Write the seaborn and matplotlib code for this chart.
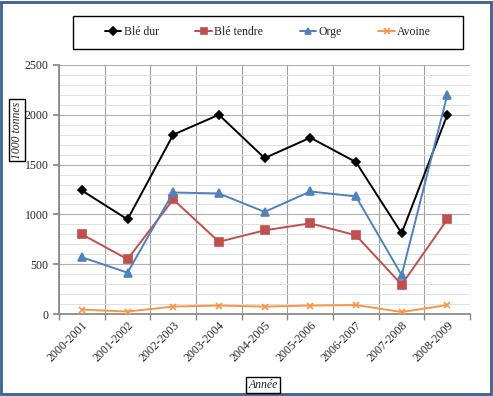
import pandas as pd
import numpy as np
import matplotlib.pyplot as plt
import seaborn as sns
from matplotlib.patches import Rectangle
from matplotlib.ticker import MultipleLocator, FixedLocator

sns.set_theme(style='white')
plt.rcParams['font.family'] = ['Liberation Serif', 'DejaVu Serif']

# données (1000 tonnes)
annees = ['2000-2001', '2001-2002', '2002-2003', '2003-2004', '2004-2005',
          '2005-2006', '2006-2007', '2007-2008', '2008-2009']
ble_dur = [1240, 950, 1800, 2000, 1565, 1770, 1525, 810, 2000]
ble_tendre = [800, 550, 1150, 725, 840, 910, 790, 295, 950]
orge = [570, 415, 1220, 1210, 1025, 1230, 1180, 390, 2200]
avoine = [45, 25, 75, 85, 75, 85, 90, 20, 90]

series = ['Blé dur', 'Blé tendre', 'Orge', 'Avoine']
valeurs = [ble_dur, ble_tendre, orge, avoine]
couleurs = ['#000000', '#c0504d', '#4f81bd', '#f79646']
marqueurs = ['D', 's', '^', 'x']
tailles = [4.5, 5.5, 5.5, 5]

pos = np.arange(len(annees))

fig = plt.figure(figsize=(4.93, 3.96), dpi=100)
ax = fig.add_axes([0.1197, 0.207, 0.834, 0.629])

for nom, v, c, m, t in zip(series, valeurs, couleurs, marqueurs, tailles):
    sns.lineplot(x=pos, y=v, color=c, marker=m, markersize=t, linewidth=1.4,
                 markeredgecolor=c, markeredgewidth=1.2, label=nom, ax=ax, zorder=3)

ax.set_xlim(-0.5, len(annees) - 0.5)
ax.set_ylim(0, 2500)
ax.xaxis.set_major_locator(FixedLocator(pos))
ax.set_xticklabels(annees, rotation=45, ha='right', rotation_mode='anchor', fontsize=8.5)
ax.xaxis.set_minor_locator(FixedLocator(np.arange(-0.5, len(annees), 1)))
ax.yaxis.set_major_locator(MultipleLocator(500))
ax.yaxis.set_minor_locator(MultipleLocator(100))
ax.tick_params(axis='y', which='major', labelsize=8.5, length=4, color='#888888', direction='out', left=True)
ax.tick_params(axis='x', which='major', length=0, pad=4)
ax.tick_params(axis='x', which='minor', length=4, color='#888888', direction='out', bottom=True)
ax.grid(True, axis='y', which='major', color='#b0b0b0', linewidth=0.8)
ax.grid(True, axis='y', which='minor', color='#e0e0e0', linewidth=0.7)
ax.grid(True, axis='x', which='minor', color='#a0a0a0', linewidth=0.8)
ax.set_axisbelow(True)
for s in ['top', 'right']:
    ax.spines[s].set_visible(False)
for s in ['left', 'bottom']:
    ax.spines[s].set_color('#888888')
ax.set_xlabel('')
ax.set_ylabel('')

h, lab = ax.get_legend_handles_labels()
ax.get_legend().remove()
leg = fig.legend(h, lab, loc='center', ncol=4,
                 bbox_to_anchor=(73 / 493, 1 - 49 / 396, 390 / 493, 33 / 396),
                 bbox_transform=fig.transFigure,
                 frameon=False, fontsize=8.5, handlelength=1.4, markerscale=0.85,
                 columnspacing=3.1, handletextpad=0.2, borderaxespad=0)
fig.patches.append(Rectangle((73 / 493, 1 - 49 / 396), 390 / 493, 33 / 396,
                             transform=fig.transFigure, fill=False, ec='black', lw=1.0))

box = dict(boxstyle='square,pad=0.2', fc='white', ec='black', lw=1.0)
fig.text(17 / 493, 1 - 130 / 396, '1000 tonnes', rotation=90, ha='center', va='center',
         fontsize=8.5, style='italic', bbox=box)
fig.text(263 / 493, 1 - 385 / 396, 'Année', ha='center', va='center',
         fontsize=8.5, style='italic', bbox=box)

# cadre bleu
fig.patches.append(Rectangle((0.003, 0.004), 0.992, 0.992, transform=fig.transFigure,
                             fill=False, ec='#3b5f8f', lw=2.0))

fig.savefig('out.png', dpi=100)
